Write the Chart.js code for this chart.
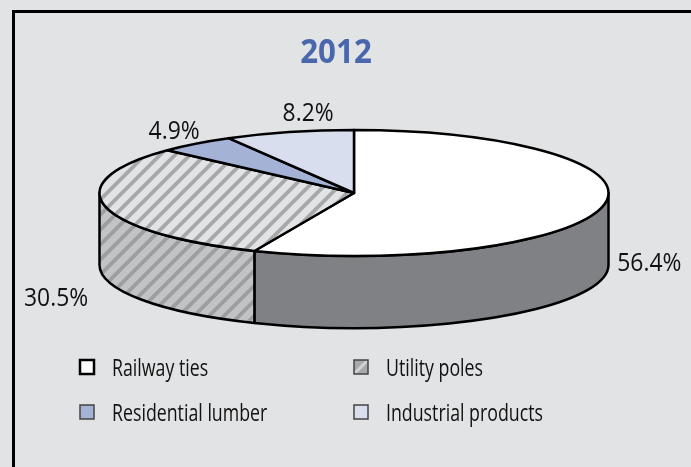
<!DOCTYPE html>
<html>
<head>
<meta charset="utf-8">
<script src="https://cdn.jsdelivr.net/npm/chart.js@4/dist/chart.umd.min.js"></script>
<style>
  html, body { margin: 0; padding: 0; background: #e2e3e5; }
  #wrap { position: relative; width: 691px; height: 467px; overflow: hidden; }
  #frame { position: absolute; left: 12px; top: 10px; width: 900px; height: 700px;
           border-left: 3px solid #000; border-top: 3px solid #000; }
  canvas { position: absolute; left: 0; top: 0; }
</style>
</head>
<body>
<div id="wrap">
  <div id="frame"></div>
  <canvas id="pie" width="691" height="467"></canvas>
</div>
<script>
var year = '2012';
var categories = ['Railway ties', 'Utility poles', 'Residential lumber', 'Industrial products'];
var shares = [56.4, 30.5, 4.9, 8.2];

var TILT = 0.2475;   // ellipse height / width
var DEPTH = 72;      // thickness of the disc in px
var FONT = '"Open Sans", "Noto Sans", sans-serif';

// diagonal "/" hatch used for utility poles
function hatch(bg, fg) {
  var s = 15;
  var c = document.createElement('canvas');
  c.width = c.height = s;
  var g = c.getContext('2d');
  g.fillStyle = bg;
  g.fillRect(0, 0, s, s);
  g.strokeStyle = fg;
  g.lineWidth = 3.8;
  g.beginPath();
  [0, s, 2 * s].forEach(function(k) { g.moveTo(k + 3, -3); g.lineTo(-3, k + 3); });
  g.stroke();
  return g.createPattern(c, 'repeat');
}

var topColors = ['#ffffff', hatch('#e2e3e5', '#a7a8aa'), '#a4b2d6', '#d9deee'];
var sideColors = ['#808185', hatch('#c2c3c5', '#9d9ea0'), '#7f8db0', '#b3b8c8'];

// where each percentage sits, relative to the rim point at the slice's middle
var labelNudge = [[46, 65], [-49, 100], [-22, -5], [19, -11]];

function squeezed(ctx, text, x, y, sx, align) {
  ctx.save();
  ctx.translate(x, y);
  ctx.scale(sx, 1);
  ctx.textAlign = align;
  ctx.fillText(text, 0, 0);
  ctx.restore();
}

var pie3d = {
  id: 'pie3d',
  beforeDatasetsDraw: function(chart) {
    var ctx = chart.ctx;
    var arcs = chart.getDatasetMeta(0).data;
    var cx = arcs[0].x, cy = arcs[0].y, rx = arcs[0].outerRadius, ry = rx * TILT;

    ctx.save();
    ctx.lineWidth = 2.5;
    ctx.strokeStyle = '#000';
    ctx.lineJoin = 'round';

    // front walls: only the part of each slice between 0 and PI faces the viewer
    arcs.forEach(function(arc, i) {
      [0, 2 * Math.PI].forEach(function(k) {
        var a = Math.max(arc.startAngle, k), b = Math.min(arc.endAngle, k + Math.PI);
        if (b <= a) return;
        ctx.beginPath();
        ctx.ellipse(cx, cy, rx, ry, 0, a, b);
        ctx.lineTo(cx + rx * Math.cos(b), cy + DEPTH + ry * Math.sin(b));
        ctx.ellipse(cx, cy + DEPTH, rx, ry, 0, b, a, true);
        ctx.closePath();
        ctx.fillStyle = sideColors[i];
        ctx.fill();
        ctx.stroke();
      });
    });

    // top faces
    arcs.forEach(function(arc, i) {
      ctx.beginPath();
      ctx.moveTo(cx, cy);
      ctx.ellipse(cx, cy, rx, ry, 0, arc.startAngle, arc.endAngle);
      ctx.closePath();
      ctx.fillStyle = topColors[i];
      ctx.fill();
      ctx.stroke();
    });

    // percentage labels
    ctx.fillStyle = '#111';
    ctx.font = '26px ' + FONT;
    ctx.textBaseline = 'alphabetic';
    arcs.forEach(function(arc, i) {
      var mid = (arc.startAngle + arc.endAngle) / 2;
      var x = cx + rx * Math.cos(mid) + labelNudge[i][0];
      var y = cy + ry * Math.sin(mid) + labelNudge[i][1];
      squeezed(ctx, shares[i].toFixed(1) + '%', x, y, 0.88, 'center');
    });
    ctx.restore();
    return false;
  },
  afterDraw: function(chart) {
    var ctx = chart.ctx;
    ctx.save();
    // title
    ctx.fillStyle = '#4a67ad';
    ctx.font = 'bold 34px ' + FONT;
    squeezed(ctx, year, 336, 63, 0.92, 'center');

    // two-column legend
    var cols = [80, 354], rows = [360, 405];
    ctx.font = '24px ' + FONT;
    categories.forEach(function(name, i) {
      var bx = cols[i % 2], by = rows[Math.floor(i / 2)];
      ctx.fillStyle = i === 1 ? '#a8a9ab' : topColors[i];
      ctx.fillRect(bx, by, 14, 14);
      if (i === 1) {
        ctx.strokeStyle = '#d2d3d5';
        ctx.lineWidth = 3;
        ctx.beginPath();
        ctx.moveTo(bx + 1, by + 13);
        ctx.lineTo(bx + 13, by + 1);
        ctx.stroke();
      }
      ctx.strokeStyle = i === 0 ? '#000' : '#444';
      ctx.lineWidth = i === 0 ? 2.5 : 1.5;
      ctx.strokeRect(bx, by, 14, 14);
      ctx.fillStyle = '#111';
      squeezed(ctx, name, bx + 32, by + 16, 0.74, 'left');
    });
    ctx.restore();
  }
};

new Chart(document.getElementById('pie'), {
  type: 'pie',
  data: {
    labels: categories,
    datasets: [{ data: shares, backgroundColor: topColors, borderColor: '#000', borderWidth: 2.5, radius: 254.5 }]
  },
  options: {
    responsive: false,
    animation: false,
    devicePixelRatio: 1,
    layout: { padding: { left: 17, right: 0, top: 0, bottom: 81 } },
    plugins: { legend: { display: false }, tooltip: { enabled: false } }
  },
  plugins: [pie3d]
});
</script>
</body>
</html>
